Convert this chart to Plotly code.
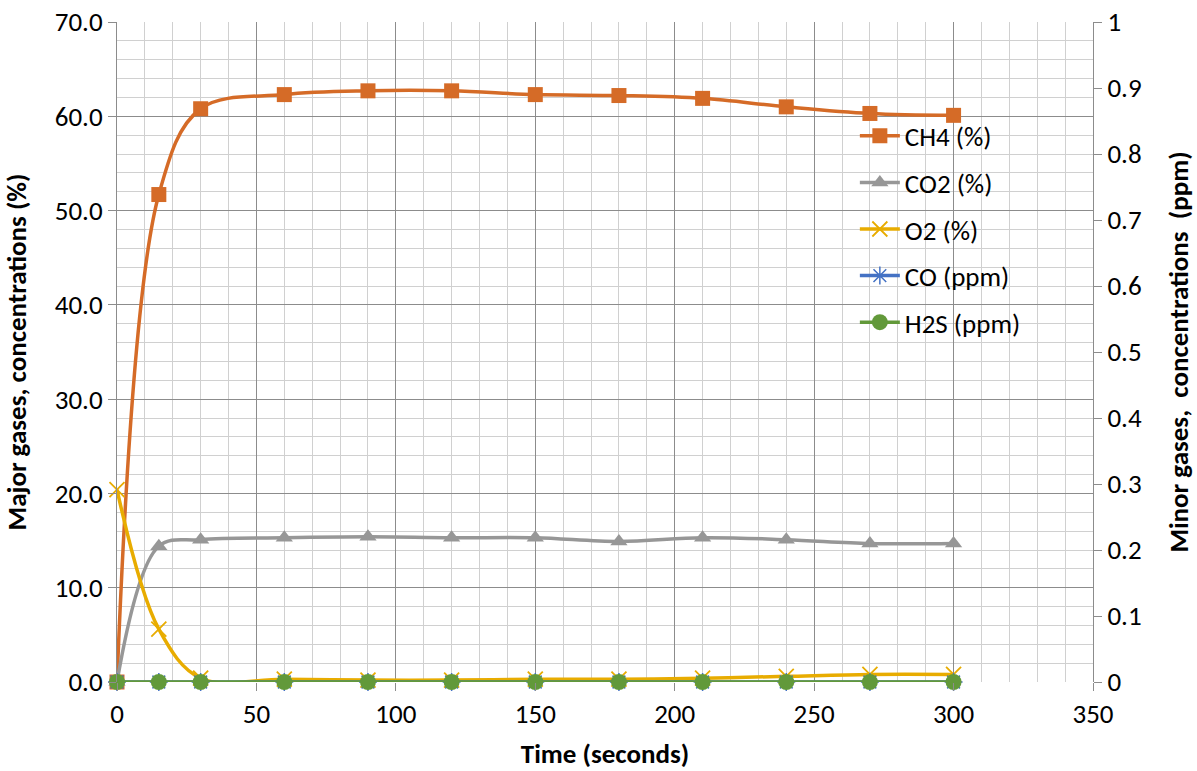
import plotly.graph_objects as go

time_s = [0, 15, 30, 60, 90, 120, 150, 180, 210, 240, 270, 300]
ch4_pct = [0.0, 51.7, 60.8, 62.3, 62.7, 62.7, 62.3, 62.2, 61.9, 61.0, 60.3, 60.1]
co2_pct = [0.0, 14.4, 15.1, 15.3, 15.4, 15.3, 15.3, 14.9, 15.3, 15.1, 14.7, 14.7]
o2_pct = [20.4, 5.6, 0.4, 0.3, 0.2, 0.2, 0.3, 0.3, 0.4, 0.6, 0.8, 0.8]
co_ppm = [0, 0, 0, 0, 0, 0, 0, 0, 0, 0, 0, 0]
h2s_ppm = [0, 0, 0, 0, 0, 0, 0, 0, 0, 0, 0, 0]

FONT = "Carlito, Calibri, Lato, sans-serif"
C_CH4 = "#D56B27"
C_CO2 = "#979797"
C_O2 = "#E8AC00"
C_CO = "#4472C4"
C_H2S = "#62993A"

fig = go.Figure()

def add(name, y, color, symbol, size, axis, group, mline=None):
    marker = dict(symbol=symbol, size=size, color=color)
    if mline is not None:
        marker["line"] = dict(color=color, width=mline)
    fig.add_trace(go.Scatter(
        x=time_s, y=y, name=name, mode="lines+markers",
        line=dict(color=color, width=3.5, shape="spline", smoothing=1.0),
        marker=marker, yaxis=axis, cliponaxis=False, legendgroup=group,
    ))

add("CH4 (%)", ch4_pct, C_CH4, "square", 15, "y", "g1")
add("CO2 (%)", co2_pct, C_CO2, "triangle-up", 15, "y", "g2")
add("O2 (%)", o2_pct, C_O2, "x-thin-open", 15, "y", "g3", mline=1.8)
add("CO (ppm)", co_ppm, C_CO, "asterisk-open", 15, "y2", "g4", mline=1.5)
add("H2S (ppm)", h2s_ppm, C_H2S, "circle", 16, "y2", "g5")

FS = 27
tickfont = dict(family=FONT, size=FS, color="#000000")
titlefont = dict(family=FONT, size=FS, color="#000000", weight="bold")

fig.update_layout(
    width=1197, height=771,
    margin=dict(l=117, r=104, t=22, b=89, autoexpand=False),
    paper_bgcolor="white", plot_bgcolor="white",
    font=dict(family=FONT, size=FS, color="#000000"),
    showlegend=True,
    legend=dict(
        x=0.756, y=0.864, xanchor="left", yanchor="top",
        bgcolor="rgba(0,0,0,0)", font=dict(family=FONT, size=FS, color="#000000"),
        tracegroupgap=8.5, traceorder="grouped", itemwidth=40,
    ),
    xaxis=dict(
        range=[0, 350], dtick=50, tick0=0,
        showgrid=True, gridcolor="#8c8c8c", gridwidth=1,
        minor=dict(dtick=10, showgrid=True, gridcolor="#d0d0d0", gridwidth=1),
        ticks="outside", ticklen=8, tickcolor="#8c8c8c",
        showline=False, zeroline=False, automargin=False,
        tickfont=tickfont, ticklabeloverflow="allow",
        title=dict(text="Time (seconds)", font=titlefont, standoff=14),
    ),
    yaxis=dict(
        range=[0, 70], dtick=10, tick0=0, tickformat=".1f",
        showgrid=True, gridcolor="#8c8c8c", gridwidth=1,
        minor=dict(dtick=2, showgrid=True, gridcolor="#d0d0d0", gridwidth=1),
        ticks="outside", ticklen=8, tickcolor="#8c8c8c",
        showline=True, linecolor="#8c8c8c", linewidth=1,
        zeroline=False, tickfont=tickfont, automargin=False,
        ticklabeloverflow="allow",
        title=dict(text="Major gases, concentrations (%)", font=titlefont, standoff=23),
    ),
    yaxis2=dict(
        range=[0, 1], dtick=0.1, tick0=0,
        overlaying="y", side="right", showgrid=False,
        ticks="outside", ticklen=8, tickcolor="#8c8c8c",
        showline=True, linecolor="#8c8c8c", linewidth=1,
        zeroline=False, tickfont=tickfont, automargin=False,
        ticklabeloverflow="allow",
        title=dict(text="Minor gases,  concentrations  (ppm)", font=titlefont, standoff=28),
    ),
)

fig.write_html(
    "out.html",
    config={"displayModeBar": False},
    post_script="document.body.style.margin='0';",
)
